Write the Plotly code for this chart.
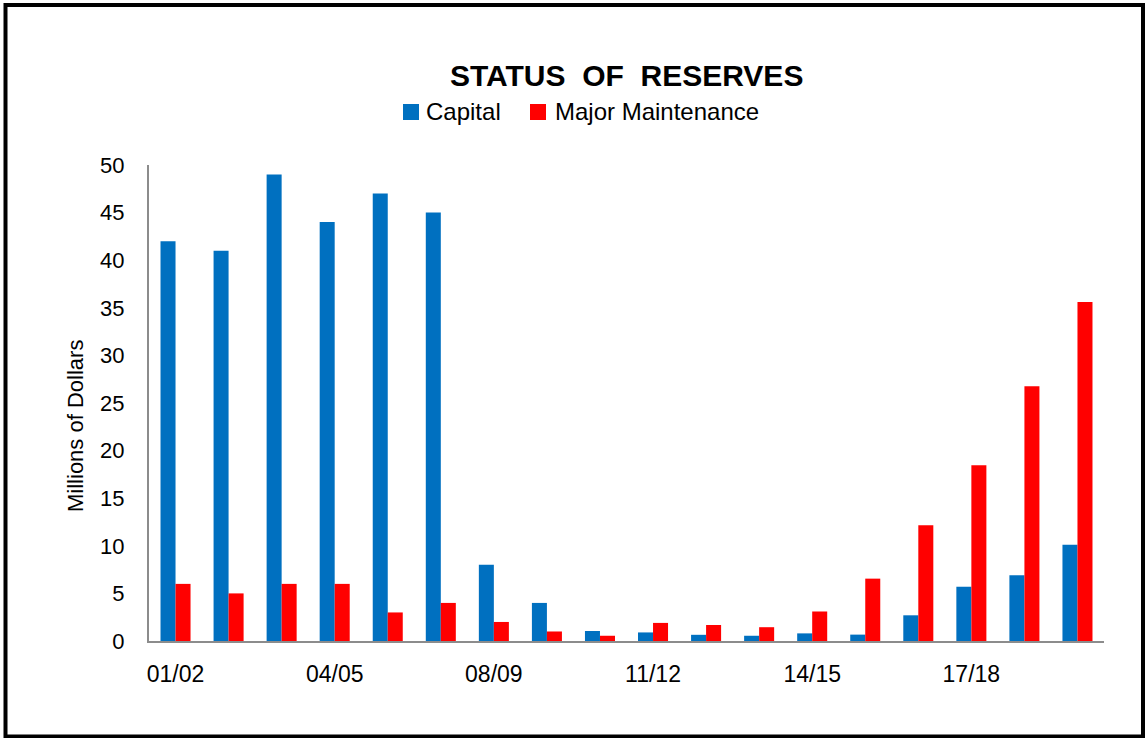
import plotly.graph_objects as go

years = ["01/02", "02/03", "03/04", "04/05", "05/06", "06/07", "08/09", "09/10", "10/11",
         "11/12", "12/13", "13/14", "14/15", "15/16", "16/17", "17/18", "18/19", "19/20"]
capital = [42, 41, 49, 44, 47, 45, 8, 4, 1.05, 0.9, 0.65, 0.55, 0.8, 0.67, 2.7, 5.7, 6.9, 10.1]
major_maint = [6, 5, 6, 6, 3, 4, 2, 1, 0.55, 1.9, 1.68, 1.45, 3.1, 6.55, 12.15, 18.45, 26.75, 35.6]
series_names = ["Capital", "Major Maintenance"]
series_colors = ["#0070C0", "#FF0000"]
tick_labels = ["01/02", "04/05", "08/09", "11/12", "14/15", "17/18"]
y_ticks = [0, 5, 10, 15, 20, 25, 30, 35, 40, 45, 50]

W, H = 1145, 738
L, R, T, B = 149, 41, 165, 97
PW, PH = W - L - R, H - T - B

def px_x(x):
    return (x - L) / PW

def px_y(y):
    return (H - B - y) / PH

FONT = "Liberation Sans Narrow, Arial Narrow, Liberation Sans, Arial, sans-serif"

fig = go.Figure()
for name, vals, col in zip(series_names, [capital, major_maint], series_colors):
    fig.add_trace(go.Bar(x=years, y=vals, name=name, marker=dict(color=col, line=dict(width=0)),
                         showlegend=False))

fig.update_layout(
    width=W, height=H,
    margin=dict(l=L, r=R, t=T, b=B),
    paper_bgcolor="white", plot_bgcolor="white",
    barmode="group", bargap=0.434, bargroupgap=0,
    font=dict(family=FONT, color="black"),
    xaxis=dict(type="category", tickmode="array", tickvals=tick_labels, ticktext=tick_labels,
               showgrid=False, showline=True, linecolor="#8c8c8c", linewidth=2, ticks="",
               tickfont=dict(size=23, family=FONT, color="black"), ticklabelstandoff=11,
               zeroline=False),
    yaxis=dict(range=[0, 50], tickvals=y_ticks, showgrid=False, showline=True,
               linecolor="#8c8c8c", linewidth=2, ticks="", zeroline=False,
               tickfont=dict(size=22, family=FONT, color="black"), ticklabelstandoff=18),
)

# y-axis title
fig.add_annotation(text="Millions of Dollars", textangle=-90, xref="paper", yref="paper",
                   x=px_x(75), y=px_y(426), xanchor="center", yanchor="middle", showarrow=False,
                   font=dict(size=22, family=FONT, color="black"))
# title
fig.add_annotation(text="<b>STATUS&nbsp; OF&nbsp; RESERVES</b>", xref="paper", yref="paper",
                   x=px_x(626), y=px_y(75), xanchor="center", yanchor="middle", showarrow=False,
                   font=dict(size=30, family=FONT, color="black"))
# custom legend
leg = [(403, 424), (530, 553)]
for (sx, tx), name, col in zip(leg, series_names, series_colors):
    fig.add_shape(type="rect", xref="paper", yref="paper",
                  x0=px_x(sx), x1=px_x(sx + 16), y0=px_y(120), y1=px_y(104),
                  fillcolor=col, line=dict(width=0))
    fig.add_annotation(text=name, xref="paper", yref="paper", x=px_x(tx), y=px_y(112),
                       xanchor="left", yanchor="middle", showarrow=False,
                       font=dict(size=24, family=FONT, color="black"))
# outer border
fig.add_shape(type="rect", xref="paper", yref="paper",
              x0=px_x(5.5), x1=px_x(1143), y0=px_y(736.5), y1=px_y(5),
              line=dict(color="black", width=4), fillcolor="rgba(0,0,0,0)", layer="above")

fig.write_html("out.html")
